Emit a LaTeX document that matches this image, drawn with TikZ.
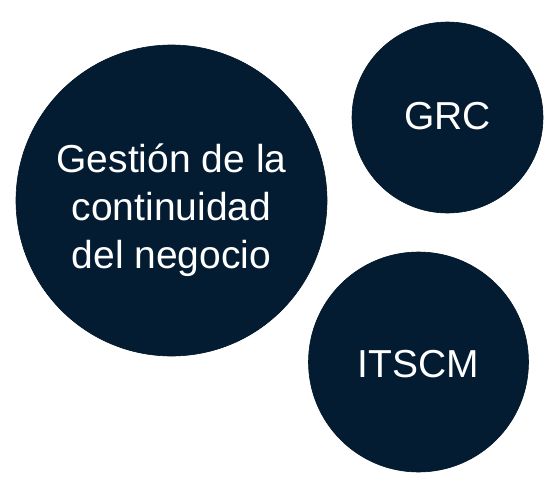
\documentclass[tikz,border=0pt]{standalone}
\usepackage{fontspec}
\setmainfont{Liberation Sans}
\definecolor{navy}{RGB}{3,28,50}
\tikzset{
  bubble/.style={circle, fill=navy, draw=navy!80!black, line width=0.6pt, inner sep=0pt},
  label text/.style={text=white, align=center, inner sep=0pt, font=\fontsize{39}{48}\selectfont}
}
\begin{document}
\begin{tikzpicture}[x=1pt,y=-1pt]
\useasboundingbox (0,0) rectangle (559,490);
\node[bubble, minimum size=311pt] (bcm) at (171.5,200.5) {};
\node[label text] (bcmtext) at ([yshift=-10pt]bcm.center) {Gestión de la\\continuidad\\del negocio};
\node[bubble, minimum size=191pt] (grc) at (447.5,117.5) {};
\node[label text] (grctext) at ([yshift=1pt]grc.center) {GRC};
\node[bubble, minimum size=220pt] (itscm) at (418.5,362) {};
\node[label text] (itscmtext) at ([yshift=-2pt]itscm.center) {ITSCM};
\end{tikzpicture}
\end{document}
